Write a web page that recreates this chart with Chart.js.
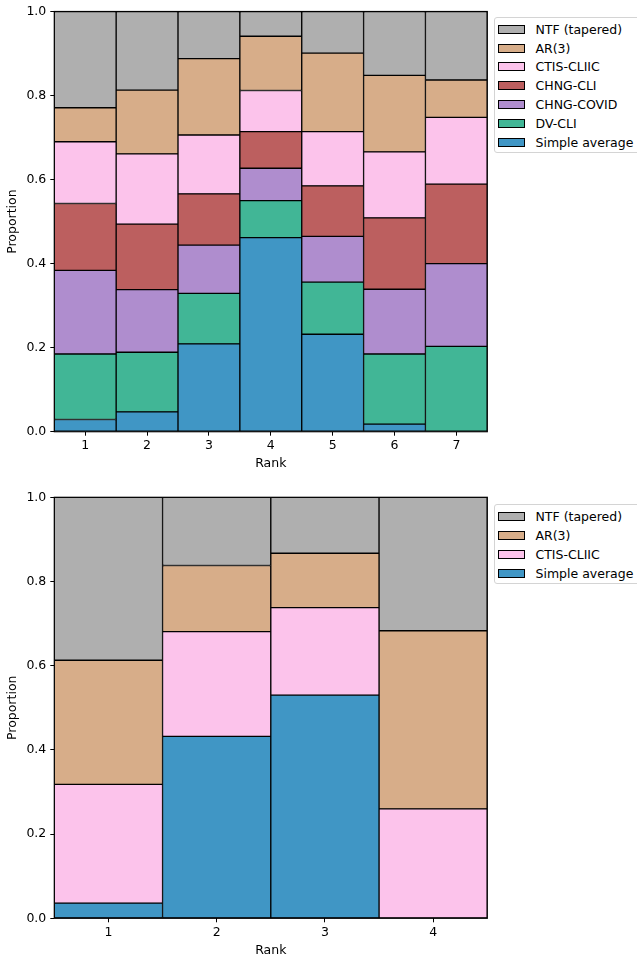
<!DOCTYPE html>
<html>
<head>
<meta charset="utf-8">
<script src="https://cdn.jsdelivr.net/npm/chart.js@4.4.0/dist/chart.umd.min.js"></script>
<style>
  html, body { margin: 0; padding: 0; background: #fff; overflow: hidden; }
  #page { position: relative; width: 637px; height: 960px; }
  canvas { position: absolute; left: 0; }
  .legend {
    position: absolute; left: 494px;
    background: #fff; border: 1px solid #d4d4d4; border-radius: 3px;
    font-family: "DejaVu Sans", sans-serif; font-size: 12.5px; color: #000;
    padding: 2px 20px 0 3px; white-space: nowrap;
  }
  .legend .row { height: 18.9px; display: flex; align-items: center; }
  .legend .sw { width: 27px; height: 9px; border: 1px solid #000; box-sizing: border-box; margin-right: 10.5px; }
</style>
</head>
<body>
<div id="page">
  <canvas id="top" width="637" height="480" style="top:0;width:637px;height:480px"></canvas>
  <canvas id="bottom" width="637" height="480" style="top:480px;width:637px;height:480px"></canvas>
  <div class="legend" id="legendTop" style="top:16.7px"></div>
  <div class="legend" id="legendBottom" style="top:504px"></div>
</div>
<script>
// ---- top panel: 7 ranks ----
const ranksTop = ['1', '2', '3', '4', '5', '6', '7'];
const simpleAvgTop  = [0.029, 0.047, 0.209, 0.462, 0.232, 0.018, 0.000];
const dvCliTop      = [0.156, 0.142, 0.120, 0.088, 0.124, 0.167, 0.203];
const chngCovidTop  = [0.199, 0.149, 0.115, 0.077, 0.109, 0.154, 0.197];
const chngCliTop    = [0.159, 0.156, 0.122, 0.087, 0.120, 0.170, 0.189];
const ctisCliicTop  = [0.147, 0.167, 0.140, 0.098, 0.129, 0.157, 0.159];
const ar3Top        = [0.081, 0.152, 0.182, 0.129, 0.187, 0.182, 0.089];
const ntfTop        = [0.229, 0.187, 0.112, 0.059, 0.099, 0.152, 0.163];

// ---- bottom panel: 4 ranks ----
const ranksBottom = ['1', '2', '3', '4'];
const simpleAvgBottom = [0.036, 0.432, 0.530, 0.000];
const ctisCliicBottom = [0.282, 0.249, 0.208, 0.260];
const ar3Bottom       = [0.295, 0.157, 0.129, 0.423];
const ntfBottom       = [0.387, 0.162, 0.133, 0.317];

// fill colours (alpha 0.75 over white, pre-blended)
const colors = {
  'Simple average': 'rgb(64,150,197)',
  'DV-CLI':         'rgb(65,182,150)',
  'CHNG-COVID':     'rgb(175,141,206)',
  'CHNG-CLI':       'rgb(188,95,95)',
  'CTIS-CLIIC':     'rgb(252,195,235)',
  'AR(3)':          'rgb(215,173,137)',
  'NTF (tapered)':  'rgb(175,175,175)'
};

Chart.defaults.font.family = '"DejaVu Sans", sans-serif';
Chart.defaults.font.size = 12.5;
Chart.defaults.color = '#000';

// matplotlib-like full box around the plot
const framePlugin = {
  id: 'frame',
  afterDatasetsDraw(chart) {
    const { ctx, chartArea: a } = chart;
    ctx.save();
    ctx.strokeStyle = '#000';
    ctx.lineWidth = 1.2;
    ctx.strokeRect(a.left, a.top, a.right - a.left, a.bottom - a.top);
    ctx.restore();
  }
};

function tickGrid() {
  return { display: true, drawOnChartArea: false, drawTicks: true, tickLength: 4, color: '#000', lineWidth: 1, offset: false };
}

function buildChart(canvasId, ranks, series, padTop, padBottom) {
  const datasets = series.map(s => ({
    label: s[0],
    data: s[1],
    backgroundColor: colors[s[0]],
    borderColor: '#000',
    borderWidth: 1,
    borderSkipped: false,
    categoryPercentage: 1,
    barPercentage: 1
  }));

  return new Chart(document.getElementById(canvasId), {
    type: 'bar',
    data: { labels: ranks, datasets },
    options: {
      responsive: false,
      animation: false,
      layout: { padding: { top: padTop, right: 149.7, bottom: padBottom, left: 0 } },
      plugins: { legend: { display: false }, tooltip: { enabled: false } },
      scales: {
        x: {
          stacked: true,
          grid: tickGrid(),
          border: { display: false },
          ticks: { padding: 3, maxRotation: 0 },
          title: { display: true, text: 'Rank', padding: { top: 1.8, bottom: 1.8 } },
          afterFit(s) { s.height = 41.7; }
        },
        y: {
          stacked: true,
          min: 0,
          max: 1,
          grid: tickGrid(),
          border: { display: false },
          ticks: { stepSize: 0.2, padding: 4, callback: v => v.toFixed(1) },
          title: { display: true, text: 'Proportion', padding: { top: 5.5, bottom: 5.5 } },
          afterFit(s) { s.width = 54.3; }
        }
      }
    },
    plugins: [framePlugin]
  });
}

function buildLegend(id, series) {
  const el = document.getElementById(id);
  series.slice().reverse().forEach(s => {
    const row = document.createElement('div');
    row.className = 'row';
    const sw = document.createElement('span');
    sw.className = 'sw';
    sw.style.background = colors[s[0]];
    const txt = document.createElement('span');
    txt.textContent = s[0];
    row.appendChild(sw);
    row.appendChild(txt);
    el.appendChild(row);
  });
}

const seriesTop = [
  ['Simple average', simpleAvgTop],
  ['DV-CLI', dvCliTop],
  ['CHNG-COVID', chngCovidTop],
  ['CHNG-CLI', chngCliTop],
  ['CTIS-CLIIC', ctisCliicTop],
  ['AR(3)', ar3Top],
  ['NTF (tapered)', ntfTop]
];
const seriesBottom = [
  ['Simple average', simpleAvgBottom],
  ['CTIS-CLIIC', ctisCliicBottom],
  ['AR(3)', ar3Bottom],
  ['NTF (tapered)', ntfBottom]
];

buildChart('top', ranksTop, seriesTop, 10.3, 6.6);
buildChart('bottom', ranksBottom, seriesBottom, 17.3, 0);
buildLegend('legendTop', seriesTop);
buildLegend('legendBottom', seriesBottom);
</script>
</body>
</html>
